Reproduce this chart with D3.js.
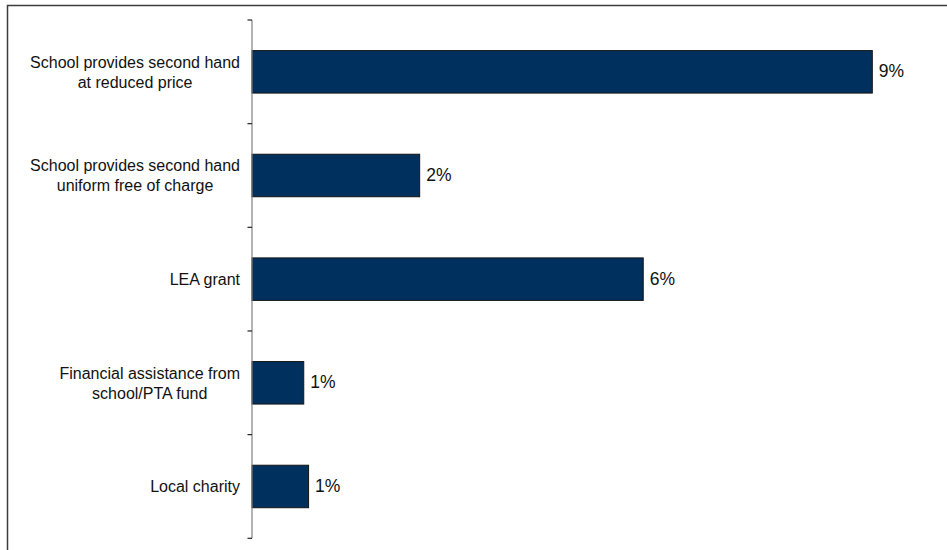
<!DOCTYPE html>
<html>
<head>
<meta charset="utf-8">
<script src="https://cdn.jsdelivr.net/npm/d3@7"></script>
<style>
  html, body { margin: 0; padding: 0; background: #fff; }
  svg { display: block; }
  text { font-family: "Liberation Sans", Arial, sans-serif; fill: #111; }
</style>
</head>
<body>
<svg id="chart" width="947" height="550"></svg>
<script>
// Help received towards school uniform costs (share of parents)
const categories = [
  "School provides second hand|at reduced price",
  "School provides second hand|uniform free of charge",
  "LEA grant",
  "Financial assistance from|school/PTA fund",
  "Local charity"
];
const values = [8.99, 2.43, 5.67, 0.75, 0.82];   // percent
const xDomain = [0, 10];

const svg = d3.select("#chart");
const W = 947, H = 550;
const margin = { left: 252, right: 5, top: 20, bottom: 11.7 };

// outer frame (runs off the right and bottom edges)
svg.append("rect")
  .attr("x", 7.5).attr("y", 5.5)
  .attr("width", 1200).attr("height", 1200)
  .attr("fill", "none")
  .attr("stroke", "#3c3c3c")
  .attr("stroke-width", 1.5);

const x = d3.scaleLinear()
  .domain(xDomain)
  .range([margin.left, W - margin.right]);

const y = d3.scaleBand()
  .domain(categories)
  .range([margin.top, H - margin.bottom])
  .paddingInner(0.59)
  .paddingOuter(0.295);

const step = y.step();
const bw = y.bandwidth();

// bars
svg.append("g")
  .selectAll("rect")
  .data(categories)
  .join("rect")
  .attr("x", x(0))
  .attr("y", d => y(d))
  .attr("width", (d, i) => x(values[i]) - x(0))
  .attr("height", bw)
  .attr("fill", "#00305e")
  .attr("stroke", "#151515")
  .attr("stroke-width", 1);

// category axis: vertical line with ticks between categories
const axis = svg.append("g").attr("stroke", "#808080").attr("stroke-width", 1.2);
const yTop = margin.top, yBot = H - margin.bottom;
axis.append("line")
  .attr("x1", x(0)).attr("x2", x(0))
  .attr("y1", yTop).attr("y2", yBot);
const tickYs = categories.map(c => y(c) + bw / 2 - step / 2)
  .concat([y(categories[categories.length - 1]) + bw / 2 + step / 2]);
axis.selectAll("line.tick")
  .data(tickYs)
  .join("line")
  .attr("class", "tick")
  .attr("x1", x(0) - 4.5).attr("x2", x(0))
  .attr("y1", d => d).attr("y2", d => d)
  .attr("stroke", "#222");

// category labels: block right-aligned to the axis, lines centred within it
const labelRight = x(0) - 12;
const lineH = 20;
const lg = svg.append("g").attr("font-size", "16px");
categories.forEach(c => {
  const lines = c.split("|");
  const cy = y(c) + bw / 2;
  const t = lg.append("text").attr("text-anchor", "middle");
  const spans = lines.map((ln, k) =>
    t.append("tspan")
      .attr("y", cy + (k - (lines.length - 1) / 2) * lineH + 5.9)
      .text(ln));
  const widths = spans.map(s => s.node().getComputedTextLength());
  const blockW = d3.max(widths);
  spans.forEach(s => s.attr("x", labelRight - blockW / 2));
});

// value labels
const fmt = d3.format(".0%");
svg.append("g")
  .attr("font-size", "17.5px")
  .selectAll("text")
  .data(categories)
  .join("text")
  .attr("x", (d, i) => x(values[i]) + 6.5)
  .attr("y", d => y(d) + bw / 2 + 5.5)
  .text((d, i) => fmt(values[i] / 100));
</script>
</body>
</html>
